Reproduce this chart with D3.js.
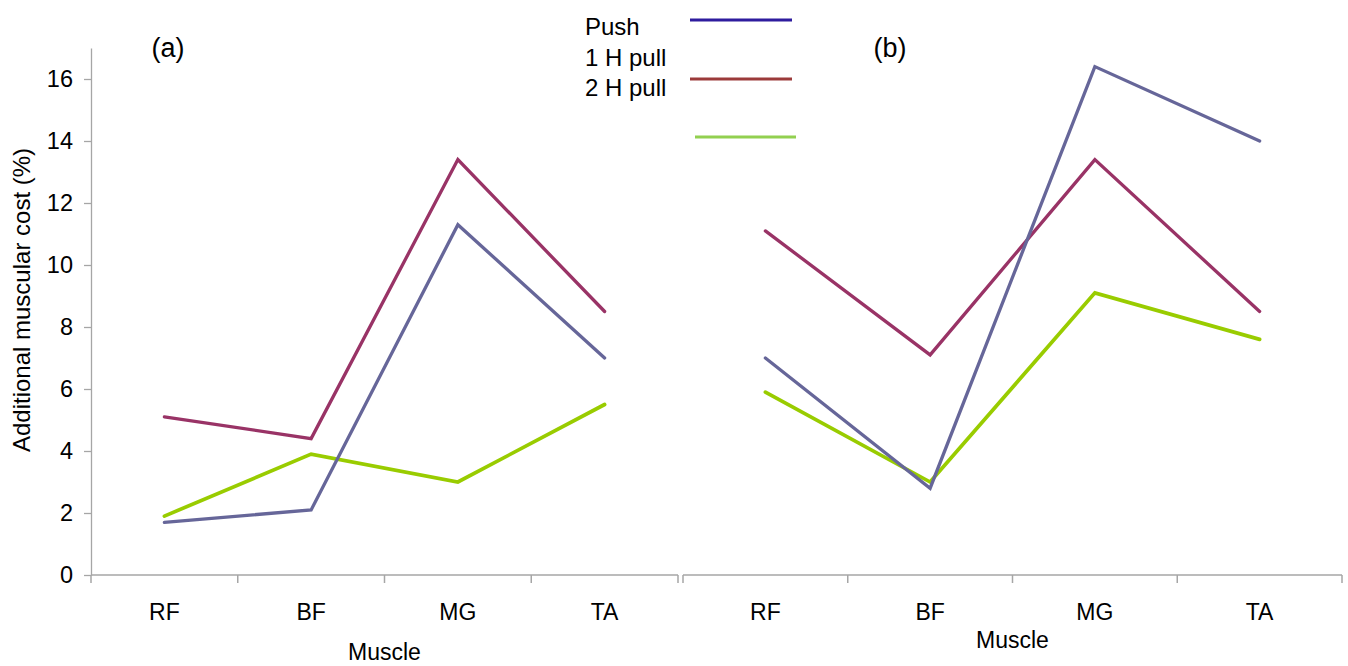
<!DOCTYPE html>
<html>
<head>
<meta charset="utf-8">
<script src="https://cdn.jsdelivr.net/npm/d3@7"></script>
<style>
  html, body { margin: 0; padding: 0; background: #fff; }
  svg { display: block; font-family: "Liberation Sans", Arial, sans-serif; }
</style>
</head>
<body>
<svg id="chart" width="1348" height="666"></svg>
<script>
// Muscles on the category axis
const muscles = ["RF", "BF", "MG", "TA"];
// Y tick labels
const yTicks = [0, 2, 4, 6, 8, 10, 12, 14, 16];
// Series names shown in the key
const seriesNames = ["Push", "1 H pull", "2 H pull"];

// Panel (a): additional muscular cost (%) per muscle
const aPush = [1.7, 2.1, 11.3, 7.0];
const aPullRed = [5.1, 4.4, 13.4, 8.5];
const aPullGreen = [1.9, 3.9, 3.0, 5.5];

// Panel (b): additional muscular cost (%) per muscle
const bPush = [7.0, 2.8, 16.4, 14.0];
const bPullRed = [11.1, 7.1, 13.4, 8.5];
const bPullGreen = [5.9, 3.0, 9.1, 7.6];

const lineColors = { push: "#666699", red: "#993366", green: "#99CC00" };
const keyColors = ["#2E1C9E", "#9B3A3A", "#92D050"];
const axisColor = "#A6A6A6";

const svg = d3.select("#chart");
const y = d3.scaleLinear().domain([0, 17]).range([575, 48]);

// Left value axis (only on panel a)
const yAxis = svg.append("g")
  .attr("transform", "translate(91,0)")
  .call(d3.axisLeft(y).tickValues(yTicks).tickSize(7).tickSizeOuter(0).tickPadding(11));
yAxis.selectAll("path, line").attr("stroke", axisColor).attr("stroke-width", 1.3);
yAxis.selectAll("text").attr("font-size", 23.5).attr("fill", "#000")
  .attr("font-family", "Liberation Sans, Arial, sans-serif");

svg.append("text")
  .attr("transform", "translate(30,300) rotate(-90)")
  .attr("text-anchor", "middle")
  .attr("font-size", 24)
  .text("Additional muscular cost (%)");

function panel(x0, x1, series, tag, tagX, titleY) {
  const x = d3.scaleBand().domain(muscles).range([x0, x1]).padding(0);
  const cx = d => x(d) + x.bandwidth() / 2;
  const g = svg.append("g");

  // category axis line with ticks at band boundaries
  g.append("line").attr("x1", x0).attr("x2", x1).attr("y1", y(0)).attr("y2", y(0))
    .attr("stroke", axisColor).attr("stroke-width", 1.5);
  const edges = muscles.map(m => x(m)).concat([x1]);
  g.selectAll("line.tk").data(edges).join("line").attr("class", "tk")
    .attr("x1", d => d).attr("x2", d => d)
    .attr("y1", y(0)).attr("y2", y(0) + 8)
    .attr("stroke", axisColor).attr("stroke-width", 1.5);
  g.selectAll("text.cat").data(muscles).join("text").attr("class", "cat")
    .attr("x", cx).attr("y", 620)
    .attr("text-anchor", "middle").attr("font-size", 23)
    .text(d => d);
  g.append("text").attr("x", (x0 + x1) / 2).attr("y", titleY)
    .attr("text-anchor", "middle").attr("font-size", 23).text("Muscle");
  g.append("text").attr("x", tagX).attr("y", 57)
    .attr("text-anchor", "middle").attr("font-size", 27).text(tag);

  const line = d3.line().x((d, i) => cx(muscles[i])).y(d => y(d));
  series.forEach(s => {
    g.append("path").datum(s.values)
      .attr("d", line)
      .attr("fill", "none")
      .attr("stroke", s.color)
      .attr("stroke-width", s.width)
      .attr("stroke-linejoin", "miter")
      .attr("stroke-linecap", "round");
  });
}

panel(91, 678, [
  { values: aPullGreen, color: lineColors.green, width: 3.7 },
  { values: aPullRed, color: lineColors.red, width: 3.3 },
  { values: aPush, color: lineColors.push, width: 3.3 }
], "(a)", 168, 660);

panel(683, 1342, [
  { values: bPullGreen, color: lineColors.green, width: 3.7 },
  { values: bPullRed, color: lineColors.red, width: 3.3 },
  { values: bPush, color: lineColors.push, width: 3.3 }
], "(b)", 890, 648);

// Key: labels and colour swatches
const key = svg.append("g");
key.selectAll("text").data(seriesNames).join("text")
  .attr("x", 585).attr("y", (d, i) => 35 + i * 30.5)
  .attr("font-size", 24).text(d => d);
const swatches = [
  { x1: 690, x2: 792, yy: 20 },
  { x1: 690, x2: 792, yy: 79 },
  { x1: 695, x2: 796, yy: 137 }
];
key.selectAll("line").data(swatches).join("line")
  .attr("x1", d => d.x1).attr("x2", d => d.x2)
  .attr("y1", d => d.yy).attr("y2", d => d.yy)
  .attr("stroke", (d, i) => keyColors[i]).attr("stroke-width", 3.2);
</script>
</body>
</html>
